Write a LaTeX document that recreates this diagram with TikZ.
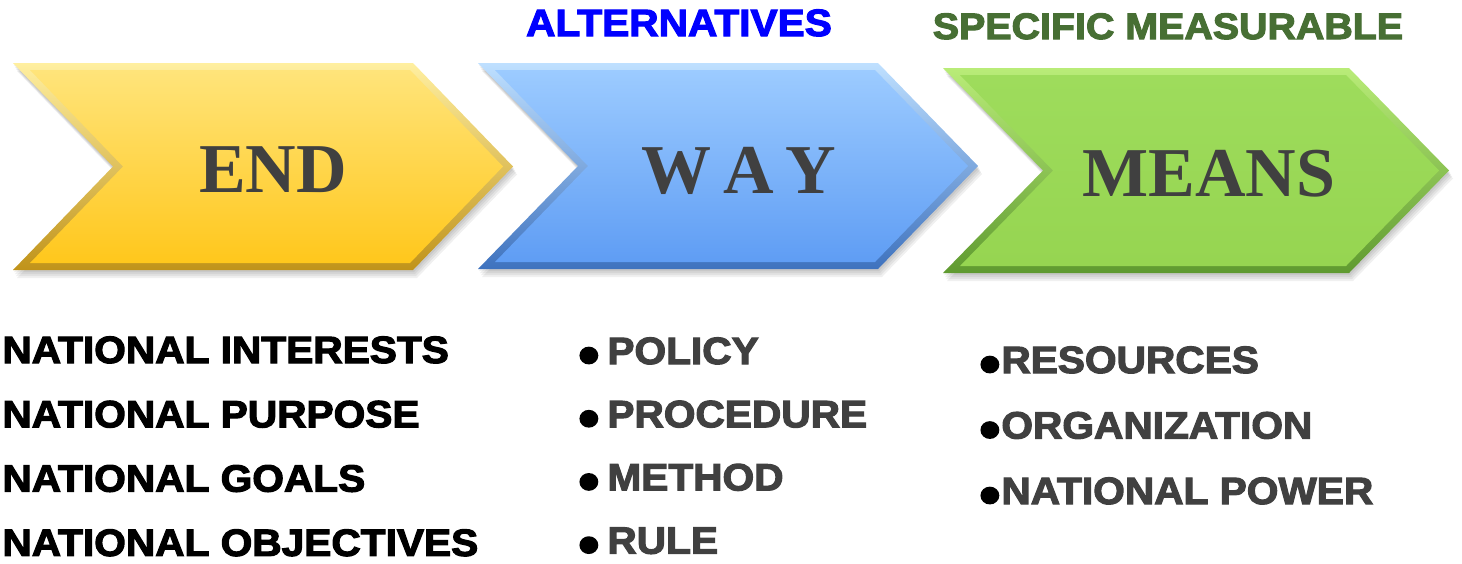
\documentclass[tikz,border=0pt]{standalone}
\usepackage{fontspec}
\setmainfont{Liberation Sans}
\newfontfamily\heavyfont[FakeBold=3,FakeStretch=1.07]{Liberation Sans Bold}
\newfontfamily\seriffont{Liberation Serif Bold}
\usetikzlibrary{positioning, calc}
\definecolor{TextGray}{HTML}{404040}
\definecolor{AltBlue}{HTML}{0000FF}
\definecolor{MeasGreen}{HTML}{476F34}
% chevron colours: inner top/bottom, rim top/bottom
\definecolor{EndTop}{HTML}{FFE47A}
\definecolor{EndBot}{HTML}{FFC71C}
\definecolor{EndRimTop}{HTML}{FFEFA0}
\definecolor{EndRimBot}{HTML}{C0931A}
\definecolor{WayTop}{HTML}{9CCBFF}
\definecolor{WayBot}{HTML}{5F9DF4}
\definecolor{WayRimTop}{HTML}{BFE0FF}
\definecolor{WayRimBot}{HTML}{3E72BE}
\definecolor{MeansTop}{HTML}{9EDC5C}
\definecolor{MeansBot}{HTML}{96D551}
\definecolor{MeansRimTop}{HTML}{B9EC78}
\definecolor{MeansRimBot}{HTML}{5F9A30}
\newcommand{\bigdot}{\textcolor{black}{\smash{\raisebox{-5pt}{\fontsize{28}{28}\selectfont•}}}}

\begin{document}
\begin{tikzpicture}[x=0.5pt, y=-0.5pt,
    bigword/.style={font=\seriffont\fontsize{35}{40}\selectfont, text=TextGray, inner sep=0pt, anchor=base},
    headword/.style={font=\heavyfont\fontsize{19}{22}\selectfont, inner sep=0pt, anchor=base},
    item/.style={font=\heavyfont\fontsize{19}{22}\selectfont, inner sep=0pt, anchor=base west}]
    \useasboundingbox (0,0) rectangle (1462,563);
    % Chevrons with shadow and bevel
    \foreach \L/\T/\W/\H/\c in {13/63/400/207/End, 478/63/400/206/Way, 943/68/406/205/Means} {
        \foreach \s in {2,4,6,8}
            \fill [black, opacity=0.06, shift={(0.5*\s,\s)}]
                (\L,\T) -- ({\L+\W},\T) -- ({\L+\W+100},{\T+\H/2}) -- ({\L+\W},{\T+\H}) -- (\L,{\T+\H}) -- ({\L+100},{\T+\H/2}) -- cycle;
        \shade [top color=\c RimTop, bottom color=\c RimBot]
            (\L,\T) -- ({\L+\W},\T) -- ({\L+\W+100},{\T+\H/2}) -- ({\L+\W},{\T+\H}) -- (\L,{\T+\H}) -- ({\L+100},{\T+\H/2}) -- cycle;
        \shade [top color=\c Top, bottom color=\c Bot]
            ({\L+17},{\T+7}) -- ({\L+\W-3},{\T+7}) -- ({\L+\W+90},{\T+\H/2}) -- ({\L+\W-3},{\T+\H-7}) -- ({\L+17},{\T+\H-7}) -- ({\L+110},{\T+\H/2}) -- cycle;
    }
    % Words on the chevrons
    \node [bigword] (endword) at (273,192) {END};
    \node [bigword] (wayword) at (739,193) {W\,A\,Y};
    \node [bigword] (meansword) at (1209,196) {MEANS};
    % Headings
    \node [headword, text=AltBlue] (alt) at (679,36) {ALTERNATIVES};
    \node [headword, text=MeasGreen, font=\heavyfont\fontsize{18.4}{22}\selectfont] (spec) at (1168,39) {SPECIFIC MEASURABLE};
    % Lists under the chevrons
    \foreach \t [count=\i] in {NATIONAL INTERESTS, NATIONAL PURPOSE, NATIONAL GOALS, NATIONAL OBJECTIVES}
        \node [item] (end\i) at (2,{363+64.3*(\i-1)}) {\t};
    \foreach \t [count=\i] in {POLICY, PROCEDURE, METHOD, RULE}
        \node [item, text=TextGray] (way\i) at (578,{364+63.2*(\i-1)}) {\bigdot\kern4pt\t};
    \foreach \t [count=\i] in {RESOURCES, ORGANIZATION, NATIONAL POWER}
        \node [item, text=TextGray] (means\i) at (979,{373+65.5*(\i-1)}) {\bigdot\kern0.5pt\t};
\end{tikzpicture}
\end{document}
